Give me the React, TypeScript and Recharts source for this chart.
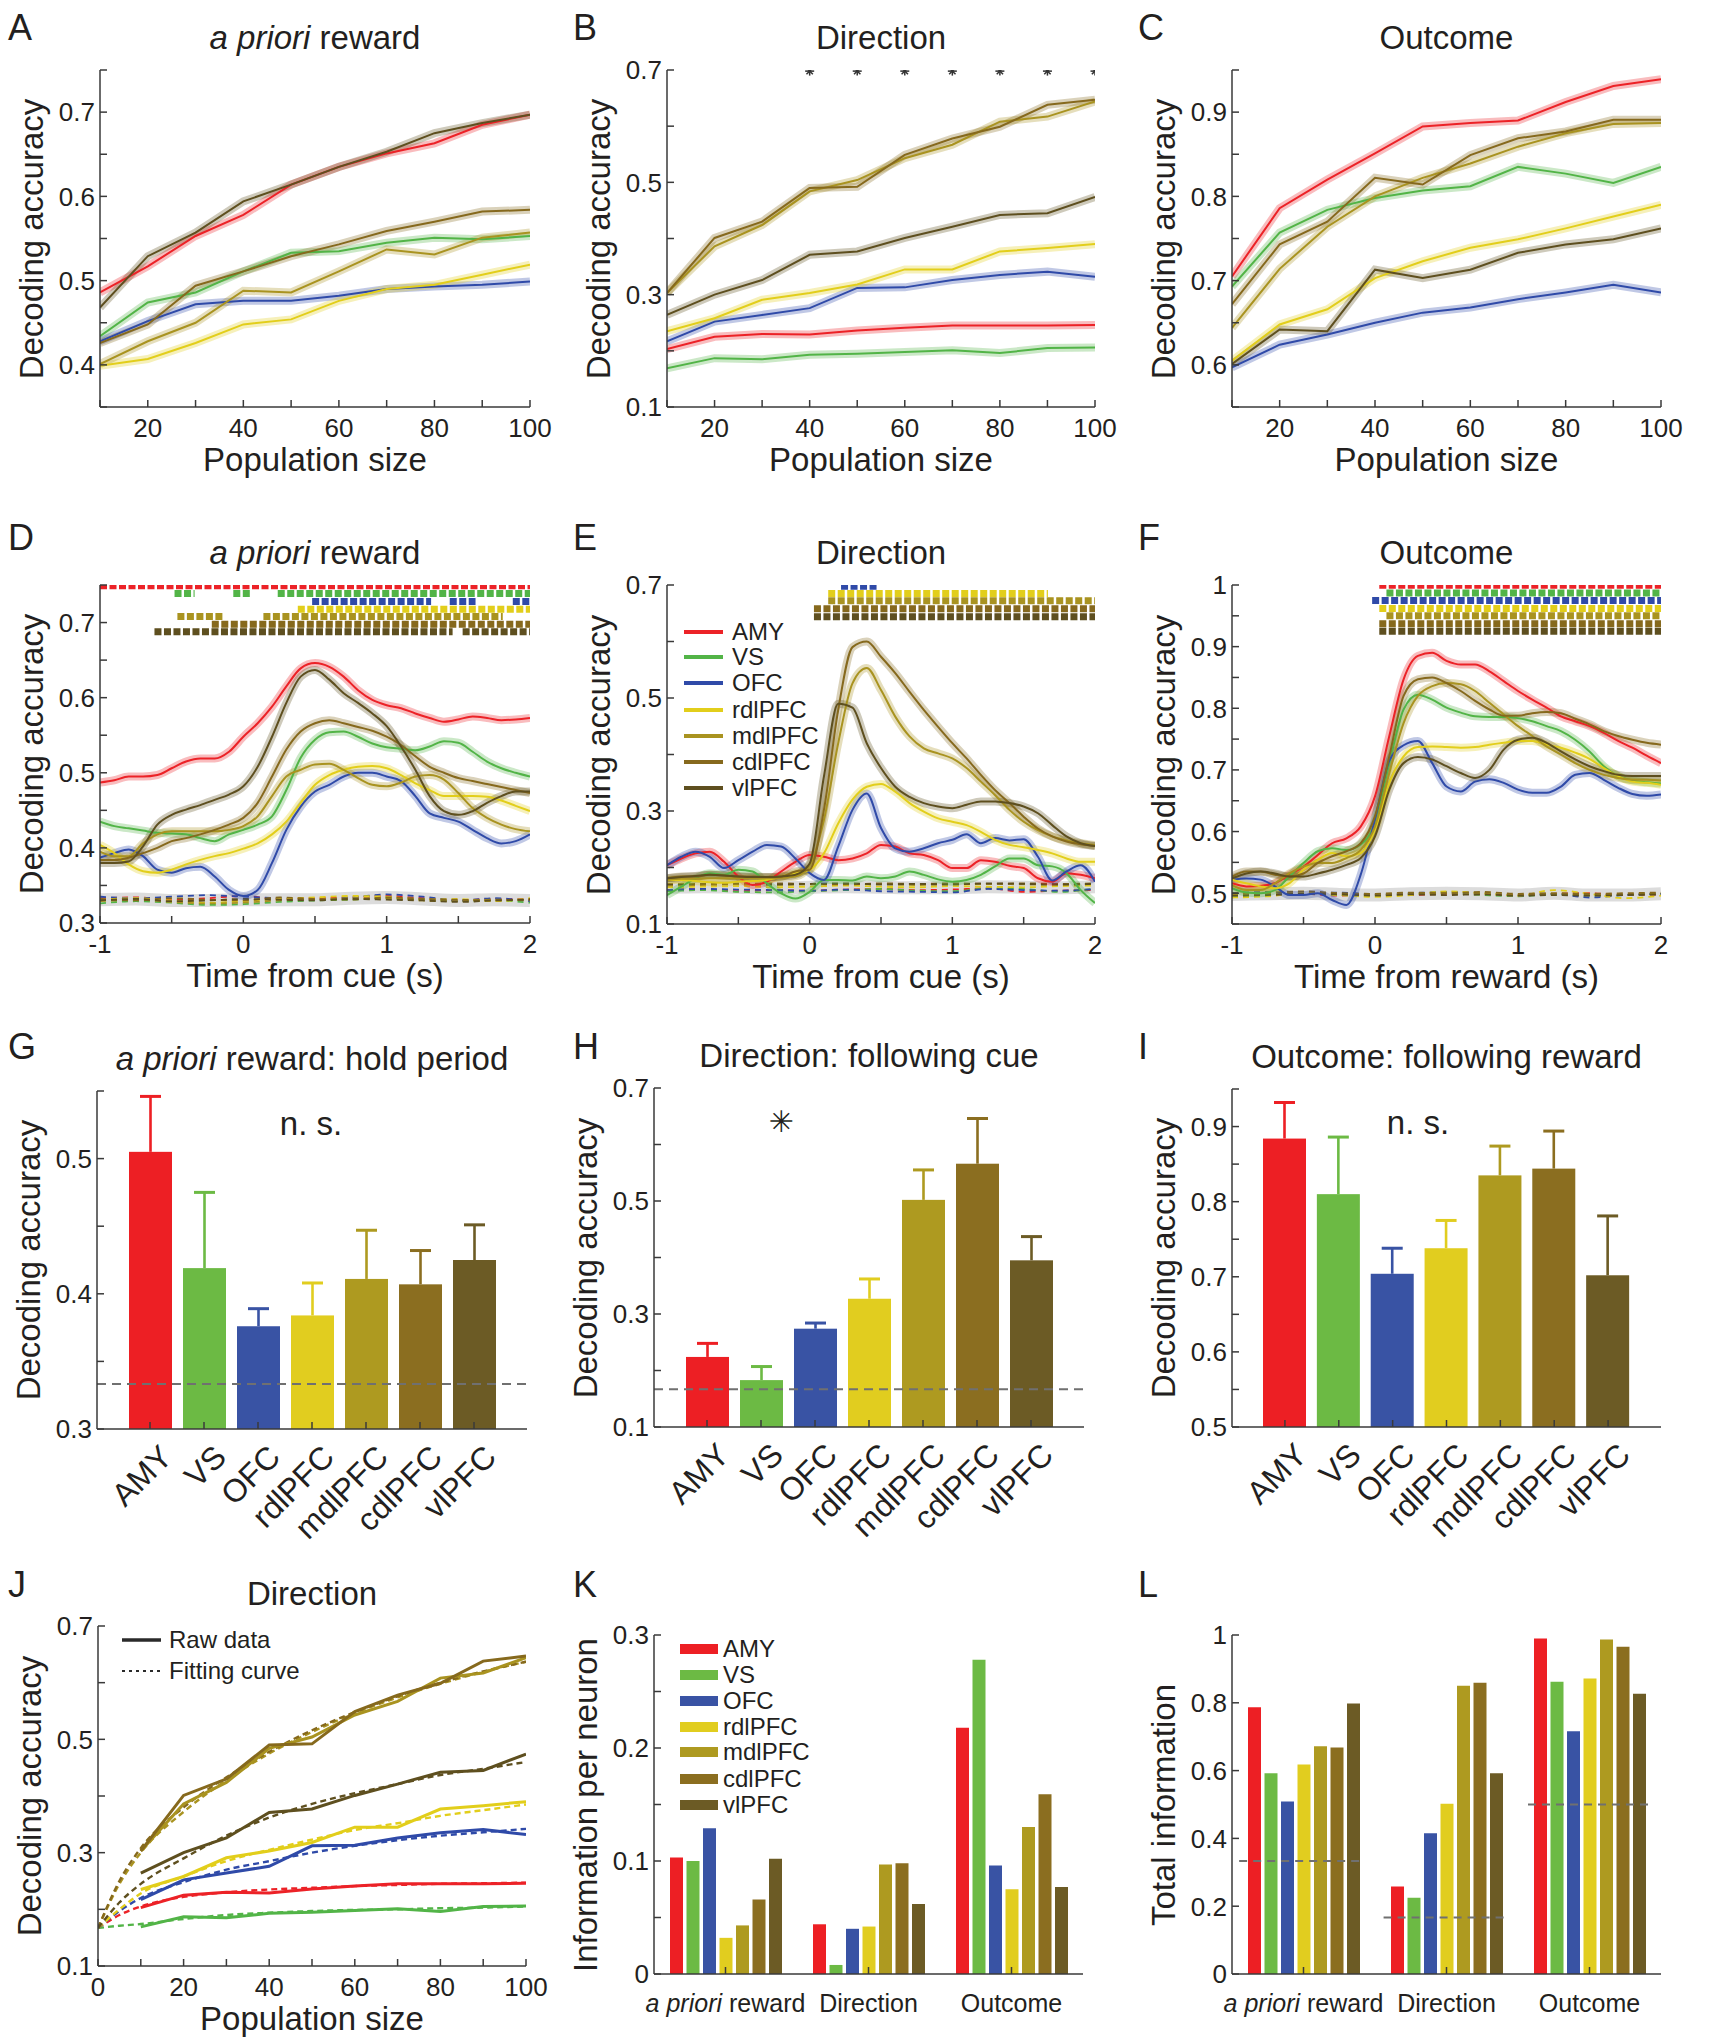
import React from 'react'
import { ComposedChart, BarChart, Line, Bar, XAxis, YAxis, ReferenceLine } from 'recharts'

const FONT = '"Liberation Sans", Arial, Helvetica, sans-serif'
const INK = '#231f20'
const AXIS = '#3a3a3a'

const AREAS = ['AMY', 'VS', 'OFC', 'rdlPFC', 'mdlPFC', 'cdlPFC', 'vlPFC']
const COLORS = ['#ed1f24', '#6cba44', '#3953a4', '#e1cd1f', '#ae9a20', '#8b6e20', '#6c5b25']
const LINE_COLORS = ['#ec2227', '#52b447', '#2f4aa8', '#e2ce1b', '#a99320', '#86691d', '#5e4f1f']

// ---------- population size panels (A, B, C, J) ----------
const popN = [10, 20, 30, 40, 50, 60, 70, 80, 90, 100]
const popTicks = [10, 20, 30, 40, 50, 60, 70, 80, 90, 100]
const popLabels = [20, 40, 60, 80, 100]

const priorPopAMY = [0.486, 0.517, 0.553, 0.578, 0.614, 0.635, 0.651, 0.663, 0.685, 0.697]
const priorPopVS = [0.434, 0.474, 0.486, 0.511, 0.533, 0.535, 0.545, 0.551, 0.549, 0.553]
const priorPopOFC = [0.428, 0.452, 0.472, 0.476, 0.476, 0.482, 0.49, 0.493, 0.495, 0.499]
const priorPopRdl = [0.399, 0.407, 0.426, 0.448, 0.454, 0.476, 0.49, 0.495, 0.507, 0.519]
const priorPopMdl = [0.401, 0.428, 0.45, 0.488, 0.486, 0.511, 0.537, 0.531, 0.551, 0.557]
const priorPopCdl = [0.426, 0.448, 0.494, 0.511, 0.529, 0.543, 0.559, 0.57, 0.582, 0.584]
const priorPopVl = [0.468, 0.529, 0.557, 0.594, 0.614, 0.635, 0.653, 0.675, 0.687, 0.697]

const dirPopAMY = [0.203, 0.225, 0.23, 0.229, 0.236, 0.241, 0.245, 0.245, 0.245, 0.246]
const dirPopVS = [0.169, 0.187, 0.185, 0.193, 0.195, 0.198, 0.201, 0.196, 0.205, 0.206]
const dirPopOFC = [0.217, 0.252, 0.264, 0.276, 0.312, 0.313, 0.326, 0.335, 0.341, 0.332]
const dirPopRdl = [0.235, 0.258, 0.291, 0.303, 0.318, 0.345, 0.345, 0.377, 0.383, 0.39]
const dirPopMdl = [0.303, 0.386, 0.424, 0.484, 0.504, 0.543, 0.567, 0.608, 0.617, 0.644]
const dirPopCdl = [0.303, 0.401, 0.43, 0.49, 0.492, 0.549, 0.578, 0.599, 0.638, 0.647]
const dirPopVl = [0.264, 0.3, 0.326, 0.371, 0.377, 0.401, 0.421, 0.442, 0.445, 0.474]
const dirStarsN = [40, 50, 60, 70, 80, 90, 100]

const outPopAMY = [0.705, 0.786, 0.82, 0.851, 0.883, 0.887, 0.89, 0.912, 0.931, 0.939]
const outPopVS = [0.693, 0.757, 0.784, 0.798, 0.807, 0.812, 0.835, 0.827, 0.816, 0.835]
const outPopOFC = [0.597, 0.624, 0.636, 0.65, 0.662, 0.668, 0.678, 0.686, 0.695, 0.686]
const outPopRdl = [0.605, 0.648, 0.666, 0.703, 0.723, 0.739, 0.749, 0.762, 0.776, 0.79]
const outPopMdl = [0.644, 0.714, 0.764, 0.8, 0.822, 0.839, 0.859, 0.875, 0.886, 0.887]
const outPopCdl = [0.672, 0.743, 0.77, 0.822, 0.814, 0.849, 0.869, 0.877, 0.891, 0.891]
const outPopVl = [0.601, 0.642, 0.64, 0.713, 0.703, 0.713, 0.733, 0.743, 0.749, 0.762]

const fitN = [0, 5, 10, 20, 30, 40, 50, 60, 70, 80, 90, 100]
const fitAMY = [0.167, 0.19, 0.205, 0.222, 0.23, 0.235, 0.238, 0.241, 0.243, 0.245, 0.246, 0.247]
const fitVS = [0.167, 0.171, 0.174, 0.183, 0.19, 0.194, 0.197, 0.199, 0.2, 0.202, 0.203, 0.205]
const fitOFC = [0.167, 0.197, 0.22, 0.248, 0.27, 0.285, 0.3, 0.312, 0.322, 0.33, 0.336, 0.342]
const fitRdl = [0.167, 0.2, 0.228, 0.258, 0.285, 0.305, 0.323, 0.34, 0.352, 0.365, 0.375, 0.385]
const fitMdl = [0.167, 0.245, 0.3, 0.372, 0.428, 0.475, 0.513, 0.546, 0.574, 0.598, 0.619, 0.637]
const fitCdl = [0.167, 0.25, 0.308, 0.38, 0.433, 0.478, 0.516, 0.548, 0.576, 0.6, 0.62, 0.637]
const fitVl = [0.167, 0.212, 0.245, 0.29, 0.33, 0.362, 0.386, 0.405, 0.421, 0.437, 0.448, 0.46]

// ---------- time course panels (D, E, F) ----------
const tGrid = [-1, -0.9, -0.8, -0.7, -0.6, -0.5, -0.4, -0.3, -0.2, -0.1, 0, 0.1, 0.2, 0.3, 0.4, 0.5, 0.6, 0.7, 0.8, 0.9, 1, 1.1, 1.2, 1.3, 1.4, 1.5, 1.6, 1.7, 1.8, 1.9, 2]
const tTicks = [-1, -0.5, 0, 0.5, 1, 1.5, 2]
const tLabels = [-1, 0, 1, 2]

const priorTimeAMY = [0.487, 0.49, 0.495, 0.495, 0.497, 0.506, 0.515, 0.519, 0.519, 0.528, 0.548, 0.566, 0.588, 0.615, 0.639, 0.646, 0.641, 0.628, 0.61, 0.597, 0.59, 0.586, 0.579, 0.573, 0.568, 0.571, 0.575, 0.573, 0.57, 0.571, 0.573]
const priorTimeVS = [0.435, 0.429, 0.426, 0.423, 0.42, 0.419, 0.418, 0.413, 0.409, 0.418, 0.424, 0.431, 0.442, 0.477, 0.52, 0.544, 0.554, 0.555, 0.548, 0.539, 0.534, 0.532, 0.53, 0.535, 0.542, 0.54, 0.528, 0.515, 0.506, 0.5, 0.495]
const priorTimeOFC = [0.387, 0.393, 0.398, 0.389, 0.371, 0.367, 0.373, 0.375, 0.362, 0.344, 0.336, 0.344, 0.38, 0.424, 0.455, 0.475, 0.484, 0.495, 0.5, 0.5, 0.495, 0.489, 0.469, 0.446, 0.44, 0.435, 0.424, 0.413, 0.406, 0.409, 0.418]
const priorTimeRdl = [0.404, 0.393, 0.378, 0.369, 0.367, 0.371, 0.378, 0.384, 0.389, 0.393, 0.399, 0.406, 0.418, 0.435, 0.46, 0.484, 0.497, 0.504, 0.508, 0.509, 0.506, 0.497, 0.486, 0.477, 0.469, 0.469, 0.469, 0.468, 0.463, 0.456, 0.449]
const priorTimeMdl = [0.395, 0.389, 0.389, 0.406, 0.418, 0.422, 0.422, 0.422, 0.422, 0.424, 0.429, 0.442, 0.469, 0.495, 0.504, 0.511, 0.512, 0.504, 0.493, 0.484, 0.482, 0.487, 0.495, 0.497, 0.491, 0.473, 0.453, 0.44, 0.431, 0.425, 0.422]
const priorTimeCdl = [0.384, 0.384, 0.387, 0.393, 0.4, 0.409, 0.413, 0.418, 0.424, 0.431, 0.44, 0.46, 0.495, 0.531, 0.555, 0.566, 0.57, 0.566, 0.561, 0.556, 0.548, 0.537, 0.522, 0.508, 0.5, 0.493, 0.489, 0.485, 0.481, 0.477, 0.473]
const priorTimeVl = [0.38, 0.38, 0.382, 0.402, 0.431, 0.444, 0.451, 0.457, 0.464, 0.471, 0.482, 0.508, 0.548, 0.593, 0.628, 0.637, 0.624, 0.606, 0.593, 0.579, 0.562, 0.535, 0.504, 0.469, 0.449, 0.444, 0.449, 0.46, 0.469, 0.475, 0.475]

const dirTimeAMY = [0.204, 0.216, 0.225, 0.228, 0.21, 0.184, 0.169, 0.175, 0.193, 0.21, 0.222, 0.219, 0.213, 0.216, 0.225, 0.24, 0.237, 0.225, 0.222, 0.213, 0.199, 0.199, 0.213, 0.21, 0.203, 0.199, 0.181, 0.175, 0.19, 0.187, 0.181]
const dirTimeVS = [0.151, 0.166, 0.181, 0.19, 0.187, 0.196, 0.193, 0.172, 0.154, 0.145, 0.157, 0.178, 0.178, 0.177, 0.184, 0.181, 0.184, 0.193, 0.187, 0.179, 0.175, 0.178, 0.187, 0.202, 0.216, 0.216, 0.204, 0.202, 0.19, 0.16, 0.137]
const dirTimeOFC = [0.204, 0.219, 0.228, 0.219, 0.199, 0.213, 0.228, 0.24, 0.237, 0.216, 0.19, 0.178, 0.237, 0.302, 0.331, 0.27, 0.234, 0.228, 0.234, 0.243, 0.249, 0.259, 0.243, 0.252, 0.248, 0.25, 0.219, 0.177, 0.193, 0.204, 0.175]
const dirTimeRdl = [0.178, 0.178, 0.176, 0.174, 0.173, 0.175, 0.176, 0.178, 0.184, 0.19, 0.196, 0.225, 0.278, 0.32, 0.343, 0.348, 0.334, 0.314, 0.299, 0.287, 0.281, 0.275, 0.263, 0.249, 0.24, 0.236, 0.231, 0.225, 0.216, 0.21, 0.21]
const dirTimeMdl = [0.178, 0.18, 0.18, 0.181, 0.181, 0.181, 0.181, 0.181, 0.182, 0.184, 0.204, 0.284, 0.42, 0.526, 0.553, 0.514, 0.467, 0.432, 0.411, 0.402, 0.393, 0.376, 0.352, 0.328, 0.302, 0.281, 0.266, 0.255, 0.248, 0.243, 0.24]
const dirTimeCdl = [0.181, 0.184, 0.184, 0.187, 0.186, 0.184, 0.184, 0.183, 0.184, 0.193, 0.196, 0.302, 0.479, 0.59, 0.6, 0.573, 0.544, 0.511, 0.479, 0.449, 0.42, 0.393, 0.364, 0.337, 0.314, 0.29, 0.269, 0.255, 0.246, 0.241, 0.238]
const dirTimeVl = [0.181, 0.183, 0.185, 0.187, 0.186, 0.184, 0.183, 0.183, 0.184, 0.187, 0.207, 0.361, 0.49, 0.483, 0.42, 0.376, 0.343, 0.325, 0.314, 0.308, 0.305, 0.311, 0.317, 0.317, 0.314, 0.308, 0.296, 0.275, 0.255, 0.243, 0.238]

const outTimeAMY = [0.516, 0.511, 0.512, 0.516, 0.53, 0.543, 0.562, 0.581, 0.589, 0.608, 0.657, 0.755, 0.847, 0.885, 0.89, 0.877, 0.871, 0.871, 0.86, 0.844, 0.828, 0.814, 0.801, 0.787, 0.779, 0.771, 0.76, 0.747, 0.736, 0.723, 0.711]
const outTimeVS = [0.508, 0.501, 0.5, 0.505, 0.527, 0.549, 0.568, 0.573, 0.57, 0.579, 0.614, 0.711, 0.798, 0.822, 0.814, 0.801, 0.793, 0.787, 0.786, 0.786, 0.784, 0.779, 0.771, 0.763, 0.749, 0.73, 0.706, 0.69, 0.683, 0.68, 0.678]
const outTimeOFC = [0.522, 0.524, 0.522, 0.511, 0.497, 0.497, 0.5, 0.489, 0.481, 0.53, 0.62, 0.715, 0.74, 0.747, 0.711, 0.673, 0.665, 0.681, 0.685, 0.679, 0.668, 0.663, 0.663, 0.673, 0.692, 0.695, 0.684, 0.671, 0.661, 0.658, 0.66]
const outTimeRdl = [0.522, 0.516, 0.511, 0.508, 0.516, 0.538, 0.554, 0.565, 0.56, 0.565, 0.603, 0.679, 0.722, 0.737, 0.738, 0.737, 0.736, 0.737, 0.741, 0.744, 0.747, 0.747, 0.741, 0.736, 0.728, 0.718, 0.703, 0.69, 0.681, 0.679, 0.676]
const outTimeMdl = [0.513, 0.505, 0.505, 0.516, 0.532, 0.543, 0.549, 0.549, 0.557, 0.57, 0.608, 0.695, 0.776, 0.82, 0.836, 0.841, 0.839, 0.828, 0.809, 0.79, 0.771, 0.755, 0.738, 0.725, 0.711, 0.7, 0.692, 0.687, 0.684, 0.684, 0.683]
const outTimeCdl = [0.527, 0.535, 0.535, 0.53, 0.527, 0.532, 0.549, 0.56, 0.568, 0.581, 0.625, 0.722, 0.82, 0.847, 0.85, 0.841, 0.828, 0.812, 0.798, 0.788, 0.788, 0.792, 0.794, 0.792, 0.783, 0.774, 0.763, 0.755, 0.749, 0.744, 0.741]
const outTimeVl = [0.524, 0.532, 0.535, 0.532, 0.527, 0.527, 0.532, 0.538, 0.546, 0.557, 0.592, 0.668, 0.711, 0.721, 0.717, 0.706, 0.695, 0.687, 0.7, 0.733, 0.749, 0.752, 0.744, 0.73, 0.717, 0.706, 0.698, 0.692, 0.69, 0.69, 0.69]

// shuffled (chance) decoding
const shufT = [-1, -0.75, -0.5, -0.25, 0, 0.25, 0.5, 0.75, 1, 1.25, 1.5, 1.75, 2]
const priorShufBand = [0.331, 0.332, 0.33, 0.33, 0.331, 0.331, 0.331, 0.333, 0.334, 0.332, 0.33, 0.331, 0.33]
const priorShuf = [
  [0.333, 0.334, 0.331, 0.333, 0.336, 0.332, 0.333, 0.334, 0.336, 0.333, 0.33, 0.332, 0.331],
  [0.326, 0.329, 0.327, 0.324, 0.325, 0.328, 0.33, 0.331, 0.333, 0.332, 0.329, 0.33, 0.327],
  [0.335, 0.333, 0.335, 0.337, 0.335, 0.333, 0.331, 0.334, 0.338, 0.335, 0.33, 0.333, 0.329],
  [0.331, 0.333, 0.33, 0.327, 0.329, 0.332, 0.334, 0.336, 0.335, 0.331, 0.332, 0.329, 0.333],
  [0.329, 0.331, 0.328, 0.326, 0.327, 0.33, 0.331, 0.333, 0.333, 0.33, 0.329, 0.331, 0.33],
  [0.332, 0.33, 0.333, 0.331, 0.33, 0.334, 0.332, 0.331, 0.334, 0.332, 0.331, 0.33, 0.332],
  [0.33, 0.332, 0.329, 0.33, 0.332, 0.331, 0.33, 0.332, 0.331, 0.33, 0.328, 0.33, 0.331],
]
const dirShufBand = [0.165, 0.166, 0.165, 0.164, 0.165, 0.166, 0.165, 0.164, 0.164, 0.166, 0.165, 0.164, 0.166]
const dirShuf = [
  [0.16, 0.162, 0.158, 0.16, 0.159, 0.161, 0.162, 0.16, 0.161, 0.163, 0.157, 0.159, 0.16],
  [0.158, 0.16, 0.157, 0.156, 0.158, 0.16, 0.162, 0.159, 0.158, 0.163, 0.162, 0.157, 0.163],
  [0.16, 0.162, 0.161, 0.16, 0.159, 0.161, 0.158, 0.157, 0.156, 0.162, 0.16, 0.159, 0.162],
  [0.165, 0.166, 0.167, 0.165, 0.166, 0.168, 0.166, 0.165, 0.167, 0.166, 0.165, 0.167, 0.168],
  [0.168, 0.169, 0.17, 0.169, 0.17, 0.171, 0.17, 0.169, 0.17, 0.171, 0.17, 0.169, 0.171],
  [0.171, 0.17, 0.171, 0.172, 0.171, 0.17, 0.172, 0.171, 0.172, 0.171, 0.172, 0.171, 0.172],
  [0.17, 0.171, 0.172, 0.17, 0.171, 0.172, 0.17, 0.171, 0.17, 0.172, 0.171, 0.17, 0.171],
]
const outShufBand = [0.498, 0.499, 0.5, 0.498, 0.497, 0.499, 0.5, 0.499, 0.497, 0.5, 0.497, 0.497, 0.499]
const outShuf = [
  [0.497, 0.498, 0.499, 0.496, 0.498, 0.497, 0.499, 0.498, 0.497, 0.499, 0.5, 0.497, 0.498],
  [0.495, 0.497, 0.5, 0.497, 0.496, 0.498, 0.5, 0.497, 0.495, 0.498, 0.496, 0.497, 0.499],
  [0.5, 0.502, 0.499, 0.501, 0.498, 0.5, 0.502, 0.5, 0.496, 0.499, 0.493, 0.497, 0.499],
  [0.493, 0.495, 0.5, 0.497, 0.494, 0.497, 0.503, 0.5, 0.496, 0.505, 0.499, 0.492, 0.496],
  [0.498, 0.5, 0.502, 0.499, 0.497, 0.499, 0.501, 0.5, 0.497, 0.499, 0.497, 0.498, 0.5],
  [0.5, 0.501, 0.503, 0.5, 0.499, 0.501, 0.5, 0.502, 0.499, 0.5, 0.499, 0.5, 0.501],
  [0.496, 0.497, 0.499, 0.498, 0.496, 0.498, 0.497, 0.498, 0.496, 0.497, 0.496, 0.497, 0.498],
]

// significance rows: [start, end] of significant bins, one list per area
const priorSigY = [0.749, 0.7386, 0.728, 0.7177, 0.708, 0.6978, 0.6876]
const priorSig = [
  [[-1, 2]],
  [[-0.48, -0.34], [-0.07, 0.06], [0.24, 2]],
  [[0.48, 1.31], [1.44, 1.62], [1.88, 2]],
  [[0.38, 2]],
  [[-0.46, -0.14], [0.14, 1.81]],
  [[-0.22, 2]],
  [[-0.62, 1.46], [1.53, 2]],
]
const dirSigY = [0, 0, 0.698, 0.685, 0.672, 0.658, 0.644]
const dirSig = [[], [], [[0.22, 0.47]], [[0.13, 1.67]], [[0.13, 2]], [[0.03, 2]], [[0.03, 2]]]
const outSigY = [0.9995, 0.987, 0.975, 0.962, 0.95, 0.937, 0.925]
const outSig = [[[0.03, 2]], [[0.08, 2]], [[-0.02, 2]], [[0.03, 2]], [[0.08, 2]], [[0.03, 2]], [[0.03, 2]]]

// ---------- bar panels (G, H, I) ----------
const holdMean = [0.505, 0.419, 0.376, 0.384, 0.411, 0.407, 0.425]
const holdSem = [0.041, 0.056, 0.013, 0.024, 0.036, 0.025, 0.026]
const cueMean = [0.224, 0.183, 0.274, 0.327, 0.502, 0.566, 0.395]
const cueSem = [0.024, 0.024, 0.01, 0.035, 0.053, 0.08, 0.042]
const rewMean = [0.884, 0.81, 0.704, 0.738, 0.835, 0.844, 0.702]
const rewSem = [0.048, 0.076, 0.034, 0.037, 0.039, 0.05, 0.079]

// ---------- information panels (K, L) ----------
const infoGroups = ['a priori reward', 'Direction', 'Outcome']
const infoPos = [0.5, 1.5, 2.5]
const perNeuronPrior = [0.103, 0.1, 0.129, 0.032, 0.043, 0.066, 0.102]
const perNeuronDir = [0.044, 0.008, 0.04, 0.042, 0.097, 0.098, 0.062]
const perNeuronOut = [0.218, 0.278, 0.096, 0.075, 0.13, 0.159, 0.077]
const totalPrior = [0.787, 0.592, 0.509, 0.618, 0.672, 0.668, 0.798]
const totalDir = [0.258, 0.225, 0.415, 0.502, 0.85, 0.859, 0.592]
const totalOut = [0.99, 0.862, 0.716, 0.872, 0.987, 0.965, 0.827]
const totalChance = [1 / 3, 1 / 6, 0.5]

// ---------- helpers ----------
type Box = { left: number; top: number; right: number; bottom: number }
const ML = 72
const MT = 16
const MR = 40
const MB = 120
const TICK_FS = 26

function frame(b: Box) {
  const width = b.right - b.left + ML + MR
  const height = b.bottom - b.top + MT + MB
  return { width, height, style: { position: 'absolute' as const, left: b.left - ML, top: b.top - MT } }
}

const near = (v: number, list: number[]) => list.some(l => Math.abs(l - v) < 1e-6)
const fmt = (v: number) => String(Math.round(v * 100) / 100)
const pts = (xs: number[], ys: number[]) => xs.map((x, i) => ({ x, y: ys[i] }))

function yTick(labels: number[]) {
  return (p: any) => {
    const v = p.payload.value
    return (
      <g>
        <line x1={p.x} x2={p.x + 7} y1={p.y} y2={p.y} stroke={AXIS} strokeWidth={1.5} />
        {near(v, labels) && (
          <text x={p.x - 5} y={p.y} dy="0.36em" textAnchor="end" fontSize={TICK_FS} fill={INK} fontFamily={FONT}>
            {fmt(v)}
          </text>
        )}
      </g>
    )
  }
}

function xTick(labels: number[]) {
  return (p: any) => {
    const v = p.payload.value
    return (
      <g>
        <line x1={p.x} x2={p.x} y1={p.y} y2={p.y - 7} stroke={AXIS} strokeWidth={1.5} />
        {near(v, labels) && (
          <text x={p.x} y={p.y + 9} dy="0.8em" textAnchor="middle" fontSize={TICK_FS} fill={INK} fontFamily={FONT}>
            {fmt(v)}
          </text>
        )}
      </g>
    )
  }
}

const rotTick = (p: any) => (
  <g>
    <line x1={p.x} x2={p.x} y1={p.y} y2={p.y - 7} stroke={AXIS} strokeWidth={1.5} />
    <text
      x={p.x + 24}
      y={p.y + 30}
      transform={`rotate(-45 ${p.x + 24} ${p.y + 30})`}
      textAnchor="end"
      fontSize={32}
      fill={INK}
      fontFamily={FONT}
    >
      {p.payload.value}
    </text>
  </g>
)

const catTick = (p: any) => {
  const name = infoGroups[infoPos.findIndex(v => Math.abs(v - p.payload.value) < 1e-6)]
  return (
    <g>
      <line x1={p.x} x2={p.x} y1={p.y} y2={p.y - 7} stroke={AXIS} strokeWidth={1.5} />
      <text x={p.x} y={p.y + 29} dy="0.35em" textAnchor="middle" fontSize={25} fill={INK} fontFamily={FONT}>
        {name === 'a priori reward'
          ? [<tspan key="i" fontStyle="italic">a priori</tspan>, ' reward']
          : name}
      </text>
    </g>
  )
}

const axisLine = { stroke: AXIS, strokeWidth: 1.5 }

function meanLines(id: string, xs: number[], list: number[][], smooth: boolean, band = true, width = 2) {
  const type = smooth ? 'monotone' : 'linear'
  const out: any[] = []
  if (band) {
    list.forEach((ys, i) =>
      out.push(
        <Line key={`${id}b${i}`} data={pts(xs, ys)} dataKey="y" type={type} stroke={LINE_COLORS[i]}
          strokeOpacity={0.3} strokeWidth={8} dot={false} activeDot={false} isAnimationActive={false} />
      )
    )
  }
  list.forEach((ys, i) =>
    out.push(
      <Line key={`${id}m${i}`} data={pts(xs, ys)} dataKey="y" type={type} stroke={LINE_COLORS[i]}
        strokeWidth={width} dot={false} activeDot={false} isAnimationActive={false} />
    )
  )
  return out
}

function shufLines(id: string, band: number[], list: number[][]) {
  const out: any[] = [
    <Line key={`${id}sb`} data={pts(shufT, band)} dataKey="y" type="monotone" stroke="#9a9a9a"
      strokeOpacity={0.35} strokeWidth={13} dot={false} activeDot={false} isAnimationActive={false} />,
  ]
  list.forEach((ys, i) =>
    out.push(
      <Line key={`${id}s${i}`} data={pts(shufT, ys)} dataKey="y" type="monotone" stroke={LINE_COLORS[i]}
        strokeWidth={1.8} strokeDasharray="6 5" dot={false} activeDot={false} isAnimationActive={false} />
    )
  )
  return out
}

function sigLines(id: string, rows: number[], segs: number[][][]) {
  const out: any[] = []
  segs.forEach((row, r) =>
    row.forEach(([a, b], k) =>
      out.push(
        <Line key={`${id}g${r}_${k}`} data={[{ x: a, y: rows[r] }, { x: b, y: rows[r] }]} dataKey="y"
          stroke={LINE_COLORS[r]} strokeWidth={7} strokeDasharray="7 2.5" dot={false} activeDot={false}
          isAnimationActive={false} />
      )
    )
  )
  return out
}

const starDot = (p: any) => {
  const r = 4.5
  return (
    <g key={`st${p.index}`}>
      {[0, 45, 90, 135].map(a => {
        const c = Math.cos((a * Math.PI) / 180) * r
        const s = Math.sin((a * Math.PI) / 180) * r
        return <line key={a} x1={p.cx - c} y1={p.cy - s} x2={p.cx + c} y2={p.cy + s} stroke="#333" strokeWidth={1.5} />
      })}
    </g>
  )
}

function LinePanel(props: {
  box: Box; xDomain: number[]; xTicks: number[]; xLabels: number[]
  yDomain: number[]; yTicks: number[]; yLabels: number[]; children: any
}) {
  const f = frame(props.box)
  return (
    <div style={f.style}>
      <ComposedChart width={f.width} height={f.height} margin={{ top: MT, right: MR, bottom: 0, left: 0 }}>
        <XAxis dataKey="x" type="number" domain={props.xDomain} ticks={props.xTicks} interval={0}
          allowDataOverflow height={MB} tickSize={0} tickMargin={0} tickLine={false}
          tick={xTick(props.xLabels)} axisLine={axisLine} />
        <YAxis type="number" domain={props.yDomain} ticks={props.yTicks} interval={0}
          allowDataOverflow width={ML} tickSize={0} tickMargin={0} tickLine={false}
          tick={yTick(props.yLabels)} axisLine={axisLine} />
        {props.children}
      </ComposedChart>
    </div>
  )
}

const errBar = (yMin: number) => (p: any) => {
  const { x, y, width, height, payload } = p
  const i = AREAS.indexOf(payload.area)
  const k = height / (payload.mean - yMin)
  const top = y - payload.sem * k
  const cx = x + width / 2
  const c = COLORS[i]
  return (
    <g>
      <line x1={cx} x2={cx} y1={y} y2={top} stroke={c} strokeWidth={2.6} />
      <line x1={cx - 10.5} x2={cx + 10.5} y1={top} y2={top} stroke={c} strokeWidth={3} />
      <rect x={x} y={y} width={width} height={height} fill={c} />
    </g>
  )
}

function BarPanel(props: {
  box: Box; means: number[]; sems: number[]; yDomain: number[]; yTicks: number[]; yLabels: number[]; chance?: number
}) {
  const f = frame(props.box)
  const rows = AREAS.map((a, i) => ({ area: a, mean: props.means[i], sem: props.sems[i] }))
  return (
    <div style={f.style}>
      <BarChart width={f.width} height={f.height} data={rows} margin={{ top: MT, right: MR, bottom: 0, left: 0 }}>
        <XAxis dataKey="area" type="category" padding={{ left: 26, right: 26 }} interval={0} height={MB}
          tickSize={0} tickMargin={0} tickLine={false} tick={rotTick} axisLine={axisLine} />
        <YAxis type="number" domain={props.yDomain} ticks={props.yTicks} interval={0} allowDataOverflow
          width={ML} tickSize={0} tickMargin={0} tickLine={false} tick={yTick(props.yLabels)} axisLine={axisLine} />
        <Bar dataKey="mean" barSize={43} shape={errBar(props.yDomain[0])} isAnimationActive={false} />
        {props.chance != null && (
          <ReferenceLine y={props.chance} stroke="#707070" strokeWidth={2} strokeDasharray="9 6" />
        )}
      </BarChart>
    </div>
  )
}

function InfoPanel(props: {
  box: Box; groups: number[][]; yDomain: number[]; yTicks: number[]; yLabels: number[]; chance?: number[]
}) {
  const f = frame(props.box)
  const rows = infoPos.map((pos, gi) => {
    const r: any = { pos }
    AREAS.forEach((a, i) => (r[a] = props.groups[gi][i]))
    return r
  })
  const spans = [[0.05, 0.93], [1.06, 1.93], [2.07, 2.95]]
  return (
    <div style={f.style}>
      <ComposedChart width={f.width} height={f.height} data={rows} barGap={3.5} barCategoryGap={15}
        margin={{ top: MT, right: MR, bottom: 0, left: 0 }}>
        <XAxis dataKey="pos" type="number" domain={[0, 3]} ticks={infoPos} interval={0} allowDataOverflow
          height={MB} tickSize={0} tickMargin={0} tickLine={false} tick={catTick} axisLine={axisLine} />
        <YAxis type="number" domain={props.yDomain} ticks={props.yTicks} interval={0} allowDataOverflow
          width={ML} tickSize={0} tickMargin={0} tickLine={false} tick={yTick(props.yLabels)} axisLine={axisLine} />
        {AREAS.map((a, i) => (
          <Bar key={a} dataKey={a} fill={COLORS[i]} barSize={13} isAnimationActive={false} />
        ))}
        {props.chance &&
          props.chance.map((c, i) => (
            <ReferenceLine key={i} segment={[{ x: spans[i][0], y: c }, { x: spans[i][1], y: c }]}
              stroke="#707070" strokeWidth={2} strokeDasharray="8 6" />
          ))}
      </ComposedChart>
    </div>
  )
}

function Txt(props: { x: number; y: number; size?: number; anchor?: string; rotate?: boolean; children: any; style?: any }) {
  const tx = props.anchor === 'start' ? '0%' : '-50%'
  return (
    <div
      style={{
        position: 'absolute', left: props.x, top: props.y, fontSize: props.size ?? 33, lineHeight: 1,
        whiteSpace: 'nowrap', transform: `translate(${tx}, -50%)${props.rotate ? ' rotate(-90deg)' : ''}`,
        ...props.style,
      }}
    >
      {props.children}
    </div>
  )
}

function Decor(props: { box: Box; title?: any; xLabel?: string; yLabel: string; letter: string; letterX: number; letterY: number }) {
  const b = props.box
  return (
    <>
      <Txt x={props.letterX} y={props.letterY} size={36} anchor="start">{props.letter}</Txt>
      {props.title && <Txt x={(b.left + b.right) / 2} y={b.top - 33}>{props.title}</Txt>}
      {props.xLabel && <Txt x={(b.left + b.right) / 2} y={b.bottom + 52}>{props.xLabel}</Txt>}
      <Txt x={b.left - 69} y={(b.top + b.bottom) / 2} rotate>{props.yLabel}</Txt>
    </>
  )
}

const prior = <><i>a priori</i> reward</>

const boxA = { left: 100, top: 70, right: 530, bottom: 407 }
const boxB = { left: 667, top: 70, right: 1095, bottom: 407 }
const boxC = { left: 1232, top: 70, right: 1661, bottom: 407 }
const boxD = { left: 100, top: 585, right: 530, bottom: 923 }
const boxE = { left: 667, top: 585, right: 1095, bottom: 924 }
const boxF = { left: 1232, top: 585, right: 1661, bottom: 924 }
const boxG = { left: 97, top: 1091, right: 527, bottom: 1429 }
const boxH = { left: 654, top: 1088, right: 1084, bottom: 1427 }
const boxI = { left: 1232, top: 1089, right: 1661, bottom: 1427 }
const boxJ = { left: 98, top: 1626, right: 526, bottom: 1966 }
const boxK = { left: 654, top: 1635, right: 1083, bottom: 1974 }
const boxL = { left: 1232, top: 1635, right: 1661, bottom: 1974 }

const legendRowsE = [632, 657, 683, 710, 736, 762, 788]
const legendRowsK = [1649, 1675, 1701, 1727, 1752, 1779, 1805]

export default function App() {
  return (
    <div style={{ position: 'absolute', left: 0, top: 0, width: 1719, height: 2040, background: '#fff', fontFamily: FONT, color: INK, overflow: 'hidden' }}>
      {/* Row 1: population size */}
      <LinePanel box={boxA} xDomain={[10, 100]} xTicks={popTicks} xLabels={popLabels}
        yDomain={[0.35, 0.75]} yTicks={[0.35, 0.4, 0.45, 0.5, 0.55, 0.6, 0.65, 0.7, 0.75]} yLabels={[0.4, 0.5, 0.6, 0.7]}>
        {meanLines('A', popN, [priorPopAMY, priorPopVS, priorPopOFC, priorPopRdl, priorPopMdl, priorPopCdl, priorPopVl], false)}
      </LinePanel>
      <Decor box={boxA} title={prior} xLabel="Population size" yLabel="Decoding accuracy" letter="A" letterX={8} letterY={28} />

      <LinePanel box={boxB} xDomain={[10, 100]} xTicks={popTicks} xLabels={popLabels}
        yDomain={[0.1, 0.7]} yTicks={[0.1, 0.2, 0.3, 0.4, 0.5, 0.6, 0.7]} yLabels={[0.1, 0.3, 0.5, 0.7]}>
        {meanLines('B', popN, [dirPopAMY, dirPopVS, dirPopOFC, dirPopRdl, dirPopMdl, dirPopCdl, dirPopVl], false)}
        <Line key="Bstars" data={dirStarsN.map(n => ({ x: n, y: 0.698 }))} dataKey="y" stroke="none" dot={starDot} activeDot={false} isAnimationActive={false} />
      </LinePanel>
      <Decor box={boxB} title="Direction" xLabel="Population size" yLabel="Decoding accuracy" letter="B" letterX={573} letterY={28} />

      <LinePanel box={boxC} xDomain={[10, 100]} xTicks={popTicks} xLabels={popLabels}
        yDomain={[0.55, 0.95]} yTicks={[0.55, 0.6, 0.65, 0.7, 0.75, 0.8, 0.85, 0.9, 0.95]} yLabels={[0.6, 0.7, 0.8, 0.9]}>
        {meanLines('C', popN, [outPopAMY, outPopVS, outPopOFC, outPopRdl, outPopMdl, outPopCdl, outPopVl], false)}
      </LinePanel>
      <Decor box={boxC} title="Outcome" xLabel="Population size" yLabel="Decoding accuracy" letter="C" letterX={1138} letterY={28} />

      {/* Row 2: time courses */}
      <LinePanel box={boxD} xDomain={[-1, 2]} xTicks={tTicks} xLabels={tLabels}
        yDomain={[0.3, 0.75]} yTicks={[0.3, 0.35, 0.4, 0.45, 0.5, 0.55, 0.6, 0.65, 0.7, 0.75]} yLabels={[0.3, 0.4, 0.5, 0.6, 0.7]}>
        {shufLines('D', priorShufBand, priorShuf)}
        {meanLines('D', tGrid, [priorTimeAMY, priorTimeVS, priorTimeOFC, priorTimeRdl, priorTimeMdl, priorTimeCdl, priorTimeVl], true)}
        {sigLines('D', priorSigY, priorSig)}
      </LinePanel>
      <Decor box={boxD} title={prior} xLabel="Time from cue (s)" yLabel="Decoding accuracy" letter="D" letterX={8} letterY={538} />

      <LinePanel box={boxE} xDomain={[-1, 2]} xTicks={tTicks} xLabels={tLabels}
        yDomain={[0.1, 0.7]} yTicks={[0.1, 0.2, 0.3, 0.4, 0.5, 0.6, 0.7]} yLabels={[0.1, 0.3, 0.5, 0.7]}>
        {shufLines('E', dirShufBand, dirShuf)}
        {meanLines('E', tGrid, [dirTimeAMY, dirTimeVS, dirTimeOFC, dirTimeRdl, dirTimeMdl, dirTimeCdl, dirTimeVl], true)}
        {sigLines('E', dirSigY, dirSig)}
      </LinePanel>
      <Decor box={boxE} title="Direction" xLabel="Time from cue (s)" yLabel="Decoding accuracy" letter="E" letterX={573} letterY={538} />
      {AREAS.map((a, i) => (
        <React.Fragment key={a}>
          <div style={{ position: 'absolute', left: 684, top: legendRowsE[i] - 2, width: 39, height: 4, background: LINE_COLORS[i] }} />
          <Txt x={732} y={legendRowsE[i]} size={24} anchor="start">{a}</Txt>
        </React.Fragment>
      ))}

      <LinePanel box={boxF} xDomain={[-1, 2]} xTicks={tTicks} xLabels={tLabels}
        yDomain={[0.45, 1]} yTicks={[0.45, 0.5, 0.55, 0.6, 0.65, 0.7, 0.75, 0.8, 0.85, 0.9, 0.95, 1]} yLabels={[0.5, 0.6, 0.7, 0.8, 0.9, 1]}>
        {shufLines('F', outShufBand, outShuf)}
        {meanLines('F', tGrid, [outTimeAMY, outTimeVS, outTimeOFC, outTimeRdl, outTimeMdl, outTimeCdl, outTimeVl], true)}
        {sigLines('F', outSigY, outSig)}
      </LinePanel>
      <Decor box={boxF} title="Outcome" xLabel="Time from reward (s)" yLabel="Decoding accuracy" letter="F" letterX={1138} letterY={538} />

      {/* Row 3: bars */}
      <BarPanel box={boxG} means={holdMean} sems={holdSem} yDomain={[0.3, 0.55]}
        yTicks={[0.3, 0.35, 0.4, 0.45, 0.5, 0.55]} yLabels={[0.3, 0.4, 0.5]} chance={1 / 3} />
      <Decor box={boxG} title={<><i>a priori</i> reward: hold period</>} yLabel="Decoding accuracy" letter="G" letterX={8} letterY={1047} />
      <Txt x={311} y={1123}>n. s.</Txt>

      <BarPanel box={boxH} means={cueMean} sems={cueSem} yDomain={[0.1, 0.7]}
        yTicks={[0.1, 0.2, 0.3, 0.4, 0.5, 0.6, 0.7]} yLabels={[0.1, 0.3, 0.5, 0.7]} chance={1 / 6} />
      <Decor box={boxH} title="Direction: following cue" yLabel="Decoding accuracy" letter="H" letterX={573} letterY={1047} />
      <Txt x={781} y={1122} size={30} style={{ fontFamily: '"DejaVu Sans"' }}>✳</Txt>

      <BarPanel box={boxI} means={rewMean} sems={rewSem} yDomain={[0.5, 0.95]}
        yTicks={[0.5, 0.55, 0.6, 0.65, 0.7, 0.75, 0.8, 0.85, 0.9, 0.95]} yLabels={[0.5, 0.6, 0.7, 0.8, 0.9]} />
      <Decor box={boxI} title="Outcome: following reward" yLabel="Decoding accuracy" letter="I" letterX={1138} letterY={1047} />
      <Txt x={1418} y={1122}>n. s.</Txt>

      {/* Row 4 */}
      <LinePanel box={boxJ} xDomain={[0, 100]} xTicks={[0, 10, 20, 30, 40, 50, 60, 70, 80, 90, 100]} xLabels={[0, 20, 40, 60, 80, 100]}
        yDomain={[0.1, 0.7]} yTicks={[0.1, 0.2, 0.3, 0.4, 0.5, 0.6, 0.7]} yLabels={[0.1, 0.3, 0.5, 0.7]}>
        {[fitAMY, fitVS, fitOFC, fitRdl, fitMdl, fitCdl, fitVl].map((ys, i) => (
          <Line key={`Jf${i}`} data={pts(fitN, ys)} dataKey="y" type="monotone" stroke={LINE_COLORS[i]}
            strokeWidth={2.4} strokeDasharray="6 4" dot={false} activeDot={false} isAnimationActive={false} />
        ))}
        {meanLines('J', popN, [dirPopAMY, dirPopVS, dirPopOFC, dirPopRdl, dirPopMdl, dirPopCdl, dirPopVl], false, false, 3)}
      </LinePanel>
      <Decor box={boxJ} title="Direction" xLabel="Population size" yLabel="Decoding accuracy" letter="J" letterX={8} letterY={1585} />
      <svg style={{ position: 'absolute', left: 118, top: 1630 }} width={48} height={52}>
        <line x1={4} x2={43} y1={10} y2={10} stroke="#2a2a2a" strokeWidth={3.5} />
        <line x1={4} x2={43} y1={41} y2={41} stroke="#2a2a2a" strokeWidth={2} strokeDasharray="3 4" />
      </svg>
      <Txt x={169} y={1640} size={24} anchor="start">Raw data</Txt>
      <Txt x={169} y={1671} size={24} anchor="start">Fitting curve</Txt>

      <InfoPanel box={boxK} groups={[perNeuronPrior, perNeuronDir, perNeuronOut]} yDomain={[0, 0.3]}
        yTicks={[0, 0.05, 0.1, 0.15, 0.2, 0.25, 0.3]} yLabels={[0, 0.1, 0.2, 0.3]} />
      <Decor box={boxK} yLabel="Information per neuron" letter="K" letterX={573} letterY={1585} />
      {AREAS.map((a, i) => (
        <React.Fragment key={a}>
          <div style={{ position: 'absolute', left: 680, top: legendRowsK[i] - 5, width: 38, height: 10, background: COLORS[i] }} />
          <Txt x={723} y={legendRowsK[i]} size={24} anchor="start">{a}</Txt>
        </React.Fragment>
      ))}

      <InfoPanel box={boxL} groups={[totalPrior, totalDir, totalOut]} yDomain={[0, 1]}
        yTicks={[0, 0.2, 0.4, 0.6, 0.8, 1]} yLabels={[0, 0.2, 0.4, 0.6, 0.8, 1]} chance={totalChance} />
      <Decor box={boxL} yLabel="Total information" letter="L" letterX={1138} letterY={1585} />
    </div>
  )
}
